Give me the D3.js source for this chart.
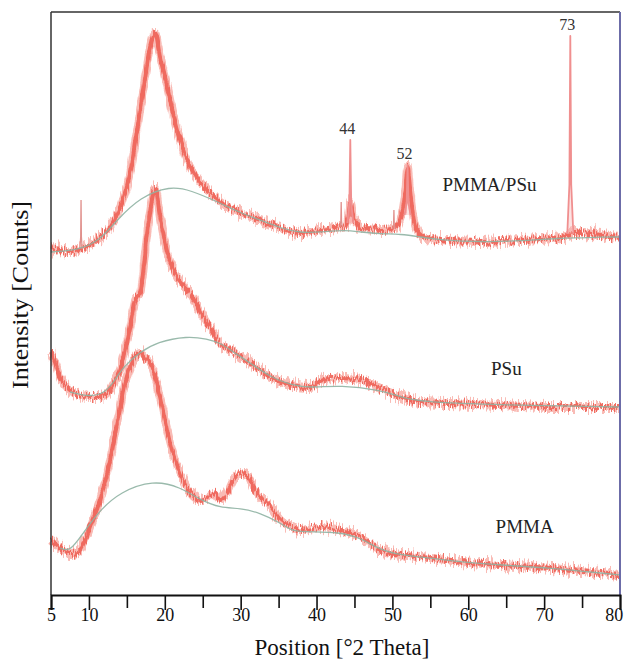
<!DOCTYPE html>
<html>
<head>
<meta charset="utf-8">
<script src="https://cdn.jsdelivr.net/npm/d3@7"></script>
<style>
  html, body { margin: 0; padding: 0; background: #fff; }
  svg { display: block; }
  text { font-family: "Liberation Serif", "DejaVu Serif", serif; fill: #111; }
</style>
</head>
<body>
<svg id="chart" width="627" height="659"></svg>
<script>
// ---- X-ray diffraction patterns: [2θ (deg), intensity (counts, offset stack)] ----
const pmmaPsuPattern = [
  [5.0,347],[6.2,345],[7.5,343],[8.6,345],[10.15,350],[11.47,358],[12.79,368],[14.11,388],
  [15.43,422],[16.09,452],[16.75,485],[17.41,518],[18.07,548],[18.73,562],[19.39,538],
  [20.05,518],[20.71,495],[21.37,472],[22.03,455],[23.35,428],[24.68,413],[26.0,402],
  [27.32,393],[28.64,387],[29.96,382],[32.6,375],[35.24,367],[37.88,362],[40.52,365],
  [42.5,367],[43.82,369],[44.2,380],[44.45,392],[44.75,380],[45.4,372],[45.8,367],
  [48.44,365],[50.42,367],[51.35,385],[51.75,407],[52.01,428],[52.27,410],[52.8,377],
  [53.46,362],[54.39,357],[56.37,355],[61.66,353],[66.93,355],[72.21,358],[73.1,360],
  [73.8,362],[74.85,362],[77.49,360],[80.0,358]
];
const psuPattern = [
  [5.0,243],[5.66,230],[6.19,218],[7.51,205],[8.57,200],[10.15,198],[11.47,198],[12.13,200],
  [12.79,205],[13.45,215],[14.11,225],[14.77,245],[15.43,268],[16.09,295],[16.75,302],
  [17.68,362],[18.47,402],[18.73,407],[19.39,378],[20.32,342],[21.64,318],[23.35,302],
  [24.68,283],[26.0,267],[27.32,252],[28.64,245],[31.28,232],[33.92,218],[36.56,210],
  [39.2,208],[40.52,214],[41.84,216],[43.16,217],[45.8,215],[48.44,207],[51.08,198],
  [53.73,193],[57.69,192],[64.29,190],[70.89,188],[77.49,188],[80.0,188]
];
const pmmaPattern = [
  [5.0,55],[6.19,47],[7.51,42],[8.57,43],[9.49,55],[10.15,68],[11.47,95],[12.79,135],
  [13.45,162],[14.11,188],[14.77,212],[15.43,228],[16.09,238],[16.75,242],[17.41,237],
  [18.07,232],[18.73,218],[19.39,198],[20.05,175],[20.71,152],[21.37,135],[22.03,122],
  [23.35,102],[24.68,95],[25.6,98],[26.39,102],[27.32,95],[28.24,102],[29.03,115],
  [29.96,122],[30.88,120],[31.67,108],[32.6,98],[33.92,88],[35.24,75],[36.56,68],
  [37.88,65],[40.52,68],[43.16,65],[45.8,58],[48.44,45],[51.08,40],[55.04,37],[59.0,33],
  [64.29,30],[70.89,27],[77.49,22],[80.0,20]
];

// ---- fitted amorphous backgrounds ----
const pmmaPsuBackground = [
  [5.0,343],[8.8,345],[11.5,355],[13.7,375],[16.75,398],[20.7,409],[23.35,405],[27.3,392],
  [30.0,382],[32.6,375],[35.2,367],[37.9,362],[40.5,363],[43.8,365],[45.8,363],[48.4,361],
  [51.1,361],[53.7,358],[56.4,355],[61.7,353],[66.9,354],[72.2,357],[74.9,357],[77.5,358],[80.0,358]
];
const psuBackground = [
  [7.51,203],[10.15,198],[12.13,202],[13.45,215],[14.51,228],[16.75,243],[19.0,253],
  [22.96,259],[25.6,256],[27.32,252],[28.64,245],[31.28,232],[33.92,218],[36.56,210],
  [39.2,207],[43.16,210],[48.44,205],[51.08,198],[53.73,193],[64.29,190],[80.0,188]
];
const pmmaBackground = [
  [6.19,47],[7.51,43],[9.23,62],[11.47,85],[14.11,103],[18.47,115],[22.03,108],[24.68,95],
  [27.32,87],[29.96,87],[32.6,82],[35.24,72],[36.56,65],[37.88,63],[43.16,63],[45.8,57],
  [48.44,45],[51.08,40],[55.04,37],[59.0,33],[64.29,30],[70.89,27],[77.49,22],[80.0,20]
];

// ---- sharp reflections on the blend pattern ----
const labelledPeaks = [
  { theta: 44.45, top: 455, base: 372 },
  { theta: 52.0,  top: 430, base: 380 },
  { theta: 73.45, top: 559, base: 361 }
];
const minorSpikes = [
  { theta: 8.96,  top: 395, base: 346 },
  { theta: 43.25, top: 393, base: 368 },
  { theta: 50.2,  top: 385, base: 366 }
];

const seriesLabels = [
  { text: "PMMA/PSu", theta: 56.6, count: 404 },
  { text: "PSu",      theta: 63.0, count: 220 },
  { text: "PMMA",     theta: 63.6, count: 62 }
];

const majorTicks = [5, 10, 20, 30, 40, 50, 60, 70, 80];
const minorTicks = [15, 25, 35, 45, 55, 65, 75];

// ---- layout ----
const svg = d3.select("#chart");
const x = d3.scaleLinear().domain([5, 80]).range([51, 620]);
const y = d3.scaleLinear().domain([0, 583]).range([595, 12]);

const defs = svg.append("defs");
// vertical jitter texture for the counting-noise look of the scans
function jitterFilter(id, scale, seed, fx) {
  const f = defs.append("filter").attr("id", id)
    .attr("x", "-2%").attr("y", "-25%").attr("width", "104%").attr("height", "150%");
  f.append("feTurbulence").attr("type", "fractalNoise")
    .attr("baseFrequency", fx + " 0.06").attr("numOctaves", 2).attr("seed", seed).attr("result", "noise");
  f.append("feColorMatrix").attr("in", "noise").attr("type", "matrix")
    .attr("values", "0 0 0 0 0.5  0 1 0 0 0  0 0 0 0 0  0 0 0 0 1").attr("result", "shift");
  f.append("feDisplacementMap").attr("in", "SourceGraphic").attr("in2", "shift")
    .attr("scale", scale).attr("xChannelSelector", "R").attr("yChannelSelector", "G");
}
jitterFilter("jitterWide", 18, 7, 0.6);
jitterFilter("jitterCore", 15, 3, 0.9);

const line = d3.line().x(d => x(d[0])).y(d => y(d[1])).curve(d3.curveMonotoneX);
const smooth = d3.line().x(d => x(d[0])).y(d => y(d[1])).curve(d3.curveBasis);

const plot = svg.append("g");

// scans
[pmmaPattern, psuPattern, pmmaPsuPattern].forEach(data => {
  plot.append("path").datum(data).attr("d", line)
    .attr("fill", "none").attr("stroke", "#f7a59d").attr("stroke-width", 8)
    .attr("stroke-linejoin", "round").attr("opacity", 0.75)
    .attr("filter", "url(#jitterWide)");
  plot.append("path").datum(data).attr("d", line)
    .attr("fill", "none").attr("stroke", "#ef6257").attr("stroke-width", 4)
    .attr("stroke-linejoin", "round").attr("opacity", 0.9)
    .attr("filter", "url(#jitterCore)");
});

// narrow reflections
function peakShape(p, hw) {
  const h = p.top - p.base;
  return [
    [p.theta - hw, p.base], [p.theta - hw * 0.3, p.base + h * 0.25],
    [p.theta, p.top],
    [p.theta + hw * 0.3, p.base + h * 0.25], [p.theta + hw, p.base]
  ];
}
const peakLine = d3.line().x(d => x(d[0])).y(d => y(d[1])).curve(d3.curveLinear);
labelledPeaks.forEach(p => {
  plot.append("path").datum(peakShape(p, 0.4)).attr("d", peakLine)
    .attr("fill", "#f6b0ae").attr("fill-opacity", 0.35)
    .attr("stroke", "#f08f8f").attr("stroke-width", 1.8).attr("stroke-linejoin", "round");
});
minorSpikes.forEach(p => {
  plot.append("path").datum(peakShape(p, 0.15)).attr("d", peakLine)
    .attr("fill", "none").attr("stroke", "#e0908c").attr("stroke-width", 1.3);
});

// backgrounds
[pmmaPsuBackground, psuBackground, pmmaBackground].forEach(data => {
  plot.append("path").datum(data).attr("d", smooth)
    .attr("fill", "none").attr("stroke", "#8fb3a3").attr("stroke-width", 1.3).attr("opacity", 0.9);
});

// peak labels
const fmt = d3.format(".0f");
svg.append("g").selectAll("text").data(labelledPeaks).join("text")
  .attr("x", d => x(d.theta) - 3)
  .attr("y", d => y(d.top) - 6)
  .attr("text-anchor", "middle")
  .style("font-size", "16px").style("fill", "#333")
  .text(d => fmt(d.theta));

// series labels
svg.append("g").selectAll("text").data(seriesLabels).join("text")
  .attr("x", d => x(d.theta))
  .attr("y", d => y(d.count))
  .style("font-size", "19px").style("fill", "#222")
  .text(d => d.text);

// frame
const [x0, x1] = x.range();
const [yb, yt] = y.range();
svg.append("line").attr("x1", x0).attr("x2", x1).attr("y1", yt).attr("y2", yt)
  .attr("stroke", "#333").attr("stroke-width", 1.5);
svg.append("line").attr("x1", x1).attr("x2", x1).attr("y1", yt).attr("y2", yb)
  .attr("stroke", "#6c6ca8").attr("stroke-width", 2);
svg.append("line").attr("x1", x0).attr("x2", x0).attr("y1", yt).attr("y2", yb)
  .attr("stroke", "#333").attr("stroke-width", 1.5);

// x axis
const axisG = svg.append("g").attr("transform", `translate(0,${yb})`);
axisG.call(d3.axisBottom(x).tickValues(majorTicks).tickFormat(d3.format("d")).tickSize(15).tickPadding(6));
axisG.append("g").call(d3.axisBottom(x).tickValues(minorTicks).tickFormat("").tickSize(13))
  .select(".domain").remove();
axisG.selectAll(".domain").attr("stroke", "#111").attr("stroke-width", 2);
axisG.selectAll(".tick line").attr("stroke", "#111").attr("stroke-width", 1.6);
axisG.selectAll(".tick text")
  .style("font-family", '"Liberation Serif", serif').style("font-size", "18px").style("fill", "#111")
  .attr("dy", "0.25em")
  .attr("text-anchor", d => d === 80 ? "end" : "middle")
  .attr("dx", d => d === 80 ? "0.15em" : 0);

// axis titles
svg.append("text").attr("x", 342).attr("y", 655).attr("text-anchor", "middle")
  .style("font-size", "23px").text("Position [°2 Theta]");
svg.append("text").attr("transform", "translate(28,295) rotate(-90)").attr("text-anchor", "middle")
  .style("font-size", "23px").attr("textLength", 188).attr("lengthAdjust", "spacingAndGlyphs")
  .text("Intensity [Counts]");
</script>
</body>
</html>
